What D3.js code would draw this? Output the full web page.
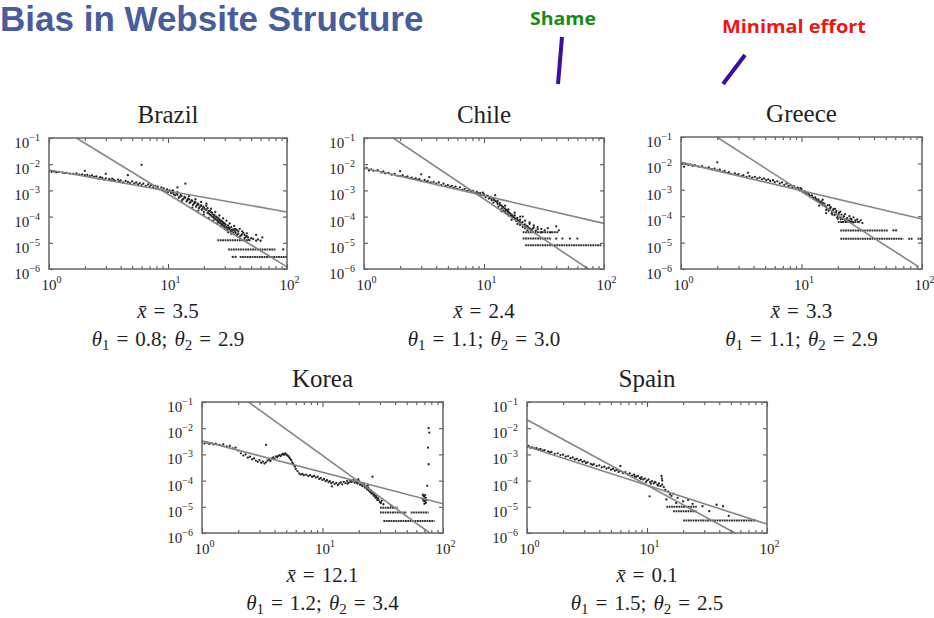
<!DOCTYPE html>
<html>
<head>
<meta charset="utf-8">
<script src="https://cdn.jsdelivr.net/npm/d3@7"></script>
<style>
  html, body { margin: 0; padding: 0; background: #fff; }
  svg { display: block; }
</style>
</head>
<body>
<svg id="chart" width="934" height="618"></svg>
<script>
// ---- values ----
const countries = ["Brazil", "Chile", "Greece", "Korea", "Spain"];
const meanX = ["3.5", "2.4", "3.3", "12.1", "0.1"];
const theta1 = ["0.8", "1.1", "1.1", "1.2", "1.5"];
const theta2 = ["2.9", "3.0", "2.9", "3.4", "2.5"];

const xTickValues = [1, 10, 100];
const xTickExp = ["0", "1", "2"];
const yTickValues = [1e-1, 1e-2, 1e-3, 1e-4, 1e-5, 1e-6];
const yTickExp = ["\u22121", "\u22122", "\u22123", "\u22124", "\u22125", "\u22126"];

// fitted power laws: shallow (theta1) and steep (theta2), as end points
const fitShallow = [
  [[1, 6.0e-3], [100, 1.5e-4]],
  [[1, 7.2e-3], [100, 5.5e-5]],
  [[1, 1.1e-2], [100, 7.8e-5]],
  [[1, 3.3e-3], [100, 1.3e-5]],
  [[1, 2.0e-3], [100, 2.2e-6]]
];
const fitSteep = [
  [[1.7, 1e-1], [100, 1.2e-6]],
  [[1.75, 1e-1], [74, 1e-6]],
  [[1.98, 1e-1], [94, 1.2e-6]],
  [[2.43, 1e-1], [77.6, 1e-6]],
  [[1, 2.1e-2], [54, 1e-6]]
];

const brazilPoints = [[1.0,5.4e-3],[1.05,5.1e-3],[1.1,5.3e-3],[1.15,4.9e-3],[1.2,5.0e-3],[1.3,4.8e-3],[1.35,4.6e-3],[1.4,4.7e-3],[1.5,4.4e-3],[1.6,4.3e-3],[1.7,4.5e-3],[1.8,4.0e-3],[1.9,4.1e-3],[2.0,5.6e-3],[2.0,3.8e-3],[2.1,3.9e-3],[2.2,3.5e-3],[2.3,3.7e-3],[2.4,3.3e-3],[2.5,3.4e-3],[2.6,2.8e-3],[2.7,3.2e-3],[2.8,3.0e-3],[2.9,2.6e-3],[3.0,4.3e-3],[3.0,2.9e-3],[3.2,2.7e-3],[3.3,2.4e-3],[3.4,2.8e-3],[3.5,2.5e-3],[3.6,2.3e-3],[3.8,2.6e-3],[3.9,2.2e-3],[4.0,2.4e-3],[4.2,2.0e-3],[4.4,2.3e-3],[4.6,3.8e-3],[4.6,2.1e-3],[4.8,1.9e-3],[5.0,2.2e-3],[5.2,1.8e-3],[5.4,2.0e-3],[5.6,1.7e-3],[5.8,1.9e-3],[6.0,9.5e-3],[6.0,1.6e-3],[6.2,1.8e-3],[6.5,1.5e-3],[6.8,1.7e-3],[7.0,1.4e-3],[7.2,1.6e-3],[7.5,1.3e-3],[7.8,1.5e-3],[8.0,1.2e-3],[8.2,1.4e-3],[8.5,1.1e-3],[8.8,1.3e-3],[9.0,1.0e-3],[9.2,1.2e-3],[9.5,9.5e-4],[9.8,1.1e-3],[10,8.7e-4],[10.3,1.0e-3],[10.6,8.0e-4],[11,8.2e-4],[11.5,6.5e-4],[12,1.3e-3],[12,6.8e-4],[12.5,5.6e-4],[13,6.0e-4],[13.5,4.8e-4],[14,1.8e-3],[14,5.2e-4],[14.5,4.2e-4],[15,4.5e-4],[15.5,3.6e-4],[16,3.9e-4],[16.5,3.1e-4],[17,3.4e-4],[17.5,2.7e-4],[18,2.9e-4],[18.5,2.3e-4],[19,2.6e-4],[19.5,2.0e-4],[20,2.2e-4],[20,1.5e-4],[21,3.1e-4],[21,1.8e-4],[21.5,1.4e-4],[22,1.6e-4],[22.5,1.2e-4],[23,1.45e-4],[23.5,1.0e-4],[24,1.2e-4],[24.5,8.5e-5],[25,1.0e-4],[25.5,7.5e-5],[26,9.0e-5],[26.5,6.5e-5],[27,7.8e-5],[27.5,5.8e-5],[28,6.8e-5],[28.5,5.0e-5],[29,6.0e-5],[29.5,4.4e-5],[30,5.4e-5],[31,4.0e-5],[31,3.0e-5],[32,4.6e-5],[32,2.5e-5],[33,3.4e-5],[34,4.0e-5],[34,2.2e-5],[35,2.9e-5],[36,3.4e-5],[37,2.4e-5],[38,2.0e-5],[39,2.7e-5],[40,1.7e-5],[42,2.1e-5],[44,1.5e-5],[46,1.8e-5],[48,1.3e-5],[50,1.5e-5],[55,1.2e-5],[62,1.6e-5],[93,5.6e-6],[35,2.9e-6],[37,2.9e-6],
  [10.8,9.2e-4],[11.2,7.0e-4],[11.8,7.6e-4],[12.3,5.2e-4],[12.8,6.6e-4],[13.2,4.4e-4],[13.8,5.6e-4],[14.3,3.8e-4],[14.8,4.8e-4],[15.2,3.3e-4],[15.8,4.2e-4],[16.2,2.8e-4],[16.8,3.6e-4],[17.2,2.4e-4],[17.8,3.1e-4],[18.2,2.1e-4],[18.8,2.7e-4],[19.2,1.8e-4],[19.8,2.4e-4],[20.5,1.9e-4],[21.5,2.1e-4],[22,1.3e-4],[22.5,1.7e-4],[23,1.1e-4],[23.5,1.4e-4],[24,9.5e-5],[24.5,1.15e-4],[25,8.0e-5],[25.5,1.0e-4],[26,7.0e-5],[26.5,8.5e-5],[27,6.0e-5],[27.5,7.2e-5],[28,5.2e-5],[28.5,6.4e-5],[29,4.6e-5],[29.5,5.6e-5],[30,4.0e-5],[30.5,4.8e-5],[31.5,3.6e-5],[32.5,3.9e-5],[33.5,2.7e-5],[34.5,3.2e-5],[35.5,2.4e-5],[36.5,2.8e-5],[38,3.0e-5],[41,1.9e-5],[43,2.4e-5],[45,1.7e-5],[47,1.6e-5],[52,1.4e-5],[57,1.35e-5],[60,1.2e-5],
  [15,6.0e-4],[16,2.2e-4],[17,4.6e-4],[18,1.7e-4],[19,3.6e-4],[20,1.2e-4],[21,2.6e-4],[22,9.0e-5],[23,2.0e-4],[24,7.0e-5],[25,1.5e-4],[26,5.5e-5],[27,1.1e-4],[28,4.2e-5],[29,8.5e-5],[30,3.3e-5],[31,7.0e-5],[32,3.4e-5],[33,5.5e-5],[34,2.9e-5],[36,4.4e-5],[37,3.3e-5],[39,2.2e-5],[40,3.4e-5],[42,2.7e-5],[44,2.0e-5],[46,2.3e-5],[55,2.0e-5],[13,3.8e-4],[12,8.5e-4],[11,1.0e-3]];
const brazilRuns = [[26, 50, 1.25e-5], [32, 80, 5.6e-6], [40, 100, 2.9e-6]];

const chilePoints = [[1.0,6.5e-3],[1.05,7.2e-3],[1.1,5.8e-3],[1.15,6.4e-3],[1.2,5.6e-3],[1.3,5.9e-3],[1.4,4.8e-3],[1.45,5.3e-3],[1.5,4.5e-3],[1.6,4.7e-3],[1.7,4.0e-3],[1.8,4.3e-3],[1.9,3.6e-3],[2.0,5.4e-3],[2.0,3.5e-3],[2.1,3.8e-3],[2.2,3.2e-3],[2.3,3.4e-3],[2.4,2.9e-3],[2.5,3.1e-3],[2.6,2.7e-3],[2.7,2.9e-3],[2.8,2.5e-3],[2.9,2.7e-3],[3.0,4.1e-3],[3.0,2.3e-3],[3.2,2.5e-3],[3.3,2.1e-3],[3.4,2.3e-3],[3.5,3.2e-3],[3.6,2.0e-3],[3.8,2.1e-3],[4.0,1.8e-3],[4.2,2.0e-3],[4.4,1.6e-3],[4.6,1.8e-3],[4.8,1.5e-3],[5.0,1.6e-3],[5.2,1.35e-3],[5.4,1.5e-3],[5.6,1.25e-3],[5.8,1.4e-3],[6.0,1.15e-3],[6.3,1.3e-3],[6.6,1.05e-3],[6.9,1.15e-3],[7.2,9.5e-4],[7.5,1.05e-3],[7.8,8.8e-4],[8.1,9.6e-4],[8.4,8.0e-4],[8.7,8.8e-4],[9.0,7.2e-4],[9.3,8.0e-4],[9.6,6.5e-4],[10,7.0e-4],[10.3,5.6e-4],[10.6,6.3e-4],[11,4.9e-4],[11.3,5.6e-4],[11.6,4.2e-4],[12,4.8e-4],[12,3.4e-4],[12.4,6.6e-4],[12.5,3.9e-4],[13,3.0e-4],[13.2,2.4e-4],[13.5,3.3e-4],[14,2.0e-4],[14,2.6e-4],[14.5,1.7e-4],[14.5,2.2e-4],[15,1.5e-4],[15,2.0e-4],[15.5,1.3e-4],[15.5,1.8e-4],[16,1.1e-4],[16,1.5e-4],[16.5,1.3e-4],[17,9.5e-5],[17,1.2e-4],[17.5,1.05e-4],[18,8.0e-5],[18,1.1e-4],[18.5,6.8e-5],[19,9.0e-5],[19.5,6.0e-5],[20,7.6e-5],[20,4.8e-5],[21,6.2e-5],[21,1.0e-4],[22,5.0e-5],[22,3.6e-5],[23,4.3e-5],[24,3.5e-5],[24,5.3e-5],[25,3.0e-5],[26,3.8e-5],[27,2.9e-5],[28,3.3e-5],[30,2.5e-5],[32,3.0e-5],[36,2.5e-5],[40,4.2e-5],[42,3.0e-5],[40,1.45e-5],[45,1.45e-5],[52,1.45e-5],[60,1.45e-5],[100,8e-6],
  [10.8,6.0e-4],[11.5,5.0e-4],[12.2,4.2e-4],[12.8,3.5e-4],[13.6,2.8e-4],[14.3,2.4e-4],[15.2,1.75e-4],[15.8,1.6e-4],[16.3,1.35e-4],[16.8,1.1e-4],[17.3,1.0e-4],[17.8,9.0e-5],[18.3,8.5e-5],[18.8,7.5e-5],[19.3,7.0e-5],[19.8,6.5e-5],[20.5,5.8e-5],[21.5,4.8e-5],[22.5,4.2e-5],[23.5,3.8e-5],[24.5,3.3e-5],[25.5,3.5e-5],[9.8,8.2e-4],[9.4,6.8e-4],[8.9,7.6e-4],
  [13,3.9e-4],[14,1.6e-4],[15,2.6e-4],[16,1.9e-4],[17,7.5e-5],[18,1.4e-4],[19,5.2e-5],[20,1.0e-4],[21,4.0e-5],[22,7.0e-5],[23,3.0e-5],[24,6.0e-5],[26,4.6e-5],[28,4.0e-5],[30,3.4e-5],[34,3.6e-5]];
const chileRuns = [[21, 42, 2.5e-5], [21, 36, 1.45e-5], [22, 95, 8e-6]];

const greecePoints = [[1.0,8.5e-3],[1.03,1.0e-2],[1.06,7.5e-3],[1.1,9.5e-3],[1.15,8.8e-3],[1.2,9.0e-3],[1.25,8.0e-3],[1.3,8.5e-3],[1.4,7.6e-3],[1.5,7.9e-3],[1.6,6.8e-3],[1.7,7.0e-3],[1.8,6.0e-3],[1.9,6.3e-3],[2.0,1.1e-2],[2.0,5.4e-3],[2.1,5.8e-3],[2.2,4.9e-3],[2.3,5.2e-3],[2.4,4.4e-3],[2.5,4.7e-3],[2.6,4.0e-3],[2.8,4.2e-3],[2.9,3.6e-3],[3.0,3.9e-3],[3.2,3.3e-3],[3.3,3.6e-3],[3.5,3.1e-3],[3.6,4.4e-3],[3.7,3.3e-3],[3.9,2.9e-3],[4.1,3.1e-3],[4.3,2.7e-3],[4.5,2.9e-3],[4.7,2.5e-3],[4.9,2.7e-3],[5.1,2.3e-3],[5.3,2.5e-3],[5.5,2.15e-3],[5.8,2.3e-3],[6.0,1.95e-3],[6.3,2.1e-3],[6.6,1.75e-3],[6.9,1.9e-3],[7.2,1.55e-3],[7.5,1.7e-3],[7.8,1.4e-3],[8.1,1.5e-3],[8.4,1.25e-3],[8.7,1.35e-3],[9.0,1.1e-3],[9.3,1.2e-3],[9.6,9.5e-4],[10,1.05e-3],[10.3,8.0e-4],[10.6,8.8e-4],[11,6.8e-4],[11.4,7.5e-4],[11.8,5.6e-4],[12.2,6.2e-4],[12.6,4.6e-4],[13,5.2e-4],[13.4,3.8e-4],[13.8,4.3e-4],[14.2,3.2e-4],[14.6,3.6e-4],[15,2.6e-4],[15,4.2e-4],[15.5,3.0e-4],[16,2.2e-4],[16,1.3e-4],[16.5,2.6e-4],[17,1.8e-4],[17.5,2.2e-4],[18,1.5e-4],[18.5,1.9e-4],[19,1.25e-4],[19.5,1.6e-4],[20,1.05e-4],[20.5,1.35e-4],[21,9.0e-5],[21.5,1.15e-4],[22,7.8e-5],[22.5,1.0e-4],[23,6.8e-5],[24,8.5e-5],[25,6.5e-5],[26,7.5e-5],[27,5.8e-5],[28,7.0e-5],[30,6.0e-5],[32,5.5e-5],[58,2.9e-5],[61,2.9e-5],
  [10.8,8.0e-4],[11.6,6.4e-4],[12.4,5.2e-4],[13.2,4.4e-4],[14,3.6e-4],[14.8,2.9e-4],[15.7,2.4e-4],[16.3,1.9e-4],[16.8,1.6e-4],[17.3,2.0e-4],[17.8,1.3e-4],[18.3,1.7e-4],[18.8,1.1e-4],[19.3,1.4e-4],[19.8,9.0e-5],[20.3,1.2e-4],[21.2,7.6e-5],[22.2,8.8e-5],[23.5,7.5e-5],[24.5,6.8e-5],[25.5,8.0e-5],[9.8,1.15e-3],[9.4,1.05e-3],
  [14,2.5e-4],[15,3.2e-4],[16,1.7e-4],[17,2.6e-4],[18,1.15e-4],[19,1.9e-4],[20,8.0e-5],[21,1.5e-4],[22,6.0e-5],[23,1.2e-4],[24,6.5e-5],[25,1.0e-4],[26,6.2e-5],[27,9.0e-5],[29,7.5e-5],[31,7.0e-5]];
const greeceRuns = [[20, 30, 6e-5], [21, 52, 2.9e-5], [21, 70, 1.4e-5], [77, 84, 1.4e-5], [92, 100, 1.4e-5]];

const koreaPoints = [[1.0,2.9e-3],[1.05,2.6e-3],[1.1,2.8e-3],[1.15,2.5e-3],[1.2,2.7e-3],[1.25,2.4e-3],[1.3,2.6e-3],[1.4,2.3e-3],[1.5,2.4e-3],[1.6,2.0e-3],[1.7,2.1e-3],[1.8,1.7e-3],[1.9,1.8e-3],[2.0,1.4e-3],[2.1,1.1e-3],[2.2,9.0e-4],[2.3,1.0e-3],[2.4,7.5e-4],[2.5,8.2e-4],[2.6,6.5e-4],[2.7,7.0e-4],[2.8,5.8e-4],[2.9,5.2e-4],[3.0,6.0e-4],[3.1,4.8e-4],[3.2,5.3e-4],[3.3,4.5e-4],[3.4,2.3e-3],[3.4,5.0e-4],[3.5,5.8e-4],[3.6,6.3e-4],[3.7,5.6e-4],[3.8,7.0e-4],[3.9,7.6e-4],[4.0,6.8e-4],[4.1,8.4e-4],[4.2,7.8e-4],[4.3,8.8e-4],[4.4,9.4e-4],[4.5,8.6e-4],[4.6,9.8e-4],[4.7,1.05e-3],[4.8,9.6e-4],[4.9,1.08e-3],[5.0,1.0e-3],[5.1,9.2e-4],[5.2,8.5e-4],[5.3,7.6e-4],[5.4,6.8e-4],[5.5,6.0e-4],[5.6,5.0e-4],[5.7,4.4e-4],[5.8,3.9e-4],[5.9,3.4e-4],[6.0,2.8e-4],[6.2,2.3e-4],[6.4,1.9e-4],[6.6,1.7e-4],[6.8,1.8e-4],[7.0,1.6e-4],[7.3,1.7e-4],[7.6,1.5e-4],[7.9,1.6e-4],[8.2,1.4e-4],[8.5,1.5e-4],[8.8,1.3e-4],[9.1,1.4e-4],[9.4,1.15e-4],[9.7,1.25e-4],[10,1.05e-4],[10.3,1.15e-4],[10.6,9.5e-5],[10.9,1.05e-4],[11.2,8.8e-5],[11.5,9.6e-5],[11.8,8.0e-5],[12,6.0e-5],[12.2,8.8e-5],[12.6,7.4e-5],[13,8.2e-5],[13.4,6.8e-5],[13.8,7.8e-5],[14.2,8.6e-5],[14.6,7.2e-5],[15,9.0e-5],[15.5,8.0e-5],[16,9.6e-5],[16.5,8.4e-5],[17,1.0e-4],[17.5,8.8e-5],[18,1.05e-4],[18.5,8.2e-5],[19,9.4e-5],[19.5,7.6e-5],[20,8.6e-5],[20.5,7.0e-5],[21,7.8e-5],[21.5,6.2e-5],[22,6.8e-5],[22.5,5.4e-5],[23,6.0e-5],[23.5,4.6e-5],[24,5.2e-5],[24.5,3.9e-5],[25,4.4e-5],[25.5,3.2e-5],[26,1.4e-4],[26,3.7e-5],[26.5,2.7e-5],[27,3.1e-5],[27.5,2.2e-5],[28,2.6e-5],[28.5,1.8e-5],[29,2.1e-5],[30,1.5e-5],[31,1.7e-5],[32,1.25e-5],[37,1.1e-5],[76,1.0e-2],[77,6.8e-3],[75,1.8e-3],[76,4.2e-4],[74,6.3e-5],[68,2.9e-5],[69,2.6e-5],[70,2.4e-5],[71,2.8e-5],[72,2.2e-5],[70,1.9e-5],[69,1.7e-5],[71,1.6e-5],[72,1.4e-5],[70,1.3e-5],[68,2.0e-5],[73,1.8e-5],
  [17.2,9.2e-5],[18.2,9.8e-5],[19.2,8.6e-5],[20.2,9.4e-5],[21.2,6.8e-5],[22.2,6.2e-5],[23.2,5.2e-5],[24.2,4.4e-5],[25.2,3.6e-5],[26.2,3.2e-5],[27.2,2.6e-5],[28.2,2.2e-5],[29.2,1.8e-5],[30.5,1.4e-5],[16.2,7.6e-5],[19.8,1.1e-4],[21.8,8.0e-5],[23.8,6.4e-5]];
const koreaRuns = [[30, 42, 9.3e-6], [30, 50, 6e-6], [54, 76, 6e-6], [32, 85, 2.9e-6]];

const spainPoints = [[1.0,1.9e-3],[1.03,2.1e-3],[1.06,1.8e-3],[1.1,1.85e-3],[1.15,1.7e-3],[1.2,1.75e-3],[1.25,1.55e-3],[1.3,1.6e-3],[1.35,1.4e-3],[1.4,1.45e-3],[1.5,1.3e-3],[1.55,1.2e-3],[1.6,1.25e-3],[1.7,1.05e-3],[1.8,1.1e-3],[1.9,9.4e-4],[2.0,9.8e-4],[2.1,8.2e-4],[2.2,8.6e-4],[2.3,7.2e-4],[2.4,7.6e-4],[2.5,6.4e-4],[2.6,6.8e-4],[2.7,5.8e-4],[2.8,6.1e-4],[2.9,5.2e-4],[3.0,5.5e-4],[3.1,4.7e-4],[3.2,5.0e-4],[3.4,4.3e-4],[3.5,4.0e-4],[3.6,4.2e-4],[3.8,3.6e-4],[4.0,3.8e-4],[4.2,3.2e-4],[4.4,3.4e-4],[4.6,2.9e-4],[4.8,3.1e-4],[5.0,2.6e-4],[5.2,2.8e-4],[5.4,2.4e-4],[5.6,2.55e-4],[5.8,2.15e-4],[6.0,3.6e-4],[6.0,2.3e-4],[6.3,1.95e-4],[6.6,2.1e-4],[6.9,1.75e-4],[7.2,1.9e-4],[7.5,1.55e-4],[7.8,1.7e-4],[8.1,1.4e-4],[8.4,1.5e-4],[8.7,1.25e-4],[9.0,1.35e-4],[9.3,1.1e-4],[9.6,1.2e-4],[10,1.0e-4],[10.3,1.1e-4],[10.6,8.8e-5],[10.5,2.5e-5],[11,9.6e-5],[11.4,7.8e-5],[11.8,8.6e-5],[12.2,7.0e-5],[12.6,7.8e-5],[13,6.2e-5],[13.2,1.5e-4],[13.3,1.2e-4],[13.4,1.0e-4],[13.4,7.0e-5],[13.8,5.6e-5],[14.2,4.4e-5],[14.5,1.9e-5],[15,3.8e-5],[15.5,3.0e-5],[16,2.6e-5],[16.5,3.2e-5],[17.5,1.4e-5],[18,2.2e-5],[20,1.6e-5],[22,1.8e-5],[24,1.3e-5],[29,1.05e-5],[33,6.8e-6],[38,1.2e-5],[43,1.05e-5],[48,4.5e-6],
  [10.8,7.6e-5],[11.6,9.0e-5],[12.4,6.4e-5],[9.8,8.8e-5],[8.9,1.15e-4],[7.9,1.45e-4]];
const spainRuns = [[14.5, 26, 1e-5], [16.5, 26, 6.8e-6], [20, 81, 3e-6]];

const pointSets = [brazilPoints, chilePoints, greecePoints, koreaPoints, spainPoints];
const runSets = [brazilRuns, chileRuns, greeceRuns, koreaRuns, spainRuns];

// ---- layout ----
const frames = [
  { x: 49,  y: 138, w: 238, h: 131 },
  { x: 364, y: 138, w: 240, h: 131 },
  { x: 681, y: 137, w: 241, h: 132 },
  { x: 202, y: 402, w: 241, h: 131 },
  { x: 527, y: 402, w: 240, h: 131 }
];

const svg = d3.select("#chart");
const serif = "'Liberation Serif', 'DejaVu Serif', serif";
const ink = "#1e1e1e";

// ---- header ----
svg.append("text")
  .attr("x", 0).attr("y", 31)
  .attr("font-family", "'Liberation Sans', Arial, sans-serif")
  .attr("font-weight", "bold").attr("font-size", 35)
  .attr("fill", "#4a5d9b")
  .text("Bias in Website Structure");

svg.append("text")
  .attr("x", 530).attr("y", 25)
  .attr("font-family", "'Open Sans', sans-serif")
  .attr("font-weight", "bold").attr("font-size", 18)
  .attr("textLength", 66).attr("lengthAdjust", "spacingAndGlyphs")
  .attr("fill", "#178a17")
  .text("Shame");

svg.append("text")
  .attr("x", 722).attr("y", 33)
  .attr("font-family", "'Open Sans', sans-serif")
  .attr("font-weight", "bold").attr("font-size", 18)
  .attr("textLength", 144).attr("lengthAdjust", "spacingAndGlyphs")
  .attr("fill", "#ee1515")
  .text("Minimal effort");

svg.append("line").attr("x1", 562).attr("y1", 37).attr("x2", 558).attr("y2", 84)
  .attr("stroke", "#3c0f9c").attr("stroke-width", 4);
svg.append("line").attr("x1", 745).attr("y1", 55).attr("x2", 723).attr("y2", 84)
  .attr("stroke", "#3c0f9c").attr("stroke-width", 4);

// ---- panels ----
countries.forEach((name, i) => {
  const f = frames[i];
  const x = d3.scaleLog().domain([1, 100]).range([f.x, f.x + f.w]);
  const y = d3.scaleLog().domain([1e-6, 1e-1]).range([f.y + f.h, f.y]);
  const g = svg.append("g");

  const clipId = "clip" + i;
  svg.append("clipPath").attr("id", clipId)
    .append("rect").attr("x", f.x).attr("y", f.y).attr("width", f.w).attr("height", f.h);
  const plot = g.append("g").attr("clip-path", `url(#${clipId})`);

  // tick marks pointing inwards on all four sides
  const minorX = x.ticks().filter(v => xTickValues.indexOf(v) < 0);
  const tickAxis = (axis, tx, ty) => {
    const a = g.append("g").attr("transform", `translate(${tx},${ty})`).call(axis);
    a.select(".domain").remove();
    a.selectAll("line").attr("stroke", "#555").attr("stroke-width", 1.1);
  };
  tickAxis(d3.axisBottom(x).tickValues(xTickValues).tickSize(-5).tickFormat(""), 0, f.y + f.h);
  tickAxis(d3.axisBottom(x).tickValues(minorX).tickSize(-3).tickFormat(""), 0, f.y + f.h);
  tickAxis(d3.axisTop(x).tickValues(xTickValues).tickSize(-5).tickFormat(""), 0, f.y);
  tickAxis(d3.axisTop(x).tickValues(minorX).tickSize(-3).tickFormat(""), 0, f.y);
  tickAxis(d3.axisLeft(y).tickValues(yTickValues).tickSize(-4).tickFormat(""), f.x, 0);
  tickAxis(d3.axisRight(y).tickValues(yTickValues).tickSize(-4).tickFormat(""), f.x + f.w, 0);

  // tail runs of repeated values
  plot.selectAll("line.run").data(runSets[i]).join("line")
    .attr("class", "run")
    .attr("x1", d => x(d[0])).attr("x2", d => x(d[1]))
    .attr("y1", d => y(d[2])).attr("y2", d => y(d[2]))
    .attr("stroke", "#2e2e2e").attr("stroke-width", 2)
    .attr("stroke-dasharray", "1.8,0.6");

  // data points
  plot.selectAll("circle").data(pointSets[i]).join("circle")
    .attr("cx", d => x(d[0])).attr("cy", d => y(d[1]))
    .attr("r", 1.15).attr("fill", "#262626");

  // fitted lines
  const line = d3.line().x(d => x(d[0])).y(d => y(d[1]));
  [fitShallow[i], fitSteep[i]].forEach(seg => {
    plot.append("path").attr("d", line(seg))
      .attr("fill", "none").attr("stroke", "#858585").attr("stroke-width", 1.6);
  });

  // frame
  g.append("rect").attr("x", f.x).attr("y", f.y).attr("width", f.w).attr("height", f.h)
    .attr("fill", "none").attr("stroke", "#666").attr("stroke-width", 1.5);

  // tick labels
  yTickValues.forEach((v, k) => {
    const t = g.append("text")
      .attr("x", f.x - 9).attr("y", y(v) + 10)
      .attr("text-anchor", "end")
      .attr("font-family", serif).attr("font-size", 15).attr("fill", ink);
    t.append("tspan").text("10");
    t.append("tspan").attr("dy", -7).attr("font-size", 10).text(yTickExp[k]);
  });
  xTickValues.forEach((v, k) => {
    const t = g.append("text")
      .attr("x", x(v) - 7.5).attr("y", f.y + f.h + 21)
      .attr("text-anchor", "start")
      .attr("font-family", serif).attr("font-size", 15).attr("fill", ink);
    t.append("tspan").text("10");
    t.append("tspan").attr("dy", -7).attr("font-size", 10).text(xTickExp[k]);
  });

  const cx = f.x + f.w / 2;
  // title
  g.append("text").attr("x", cx).attr("y", f.y - 15)
    .attr("text-anchor", "middle")
    .attr("font-family", serif).attr("font-size", 25).attr("fill", ink)
    .text(name);

  // summary statistics
  const eq = "\u2004=\u2004";
  const s1 = g.append("text").attr("x", cx).attr("y", f.y + f.h + 49)
    .attr("text-anchor", "middle")
    .attr("font-family", serif).attr("font-size", 21).attr("fill", ink);
  s1.append("tspan").attr("font-style", "italic").text("x\u0304");
  s1.append("tspan").text(eq + meanX[i]);

  const s2 = g.append("text").attr("x", cx).attr("y", f.y + f.h + 77)
    .attr("text-anchor", "middle")
    .attr("font-family", serif).attr("font-size", 21).attr("fill", ink);
  s2.append("tspan").attr("font-style", "italic").text("\u03b8");
  s2.append("tspan").attr("font-size", 15).attr("dy", 4).text("1");
  s2.append("tspan").attr("dy", -4).text(eq + theta1[i] + ";\u2004");
  s2.append("tspan").attr("font-style", "italic").text("\u03b8");
  s2.append("tspan").attr("font-size", 15).attr("dy", 4).text("2");
  s2.append("tspan").attr("dy", -4).text(eq + theta2[i]);
});
</script>
</body>
</html>
